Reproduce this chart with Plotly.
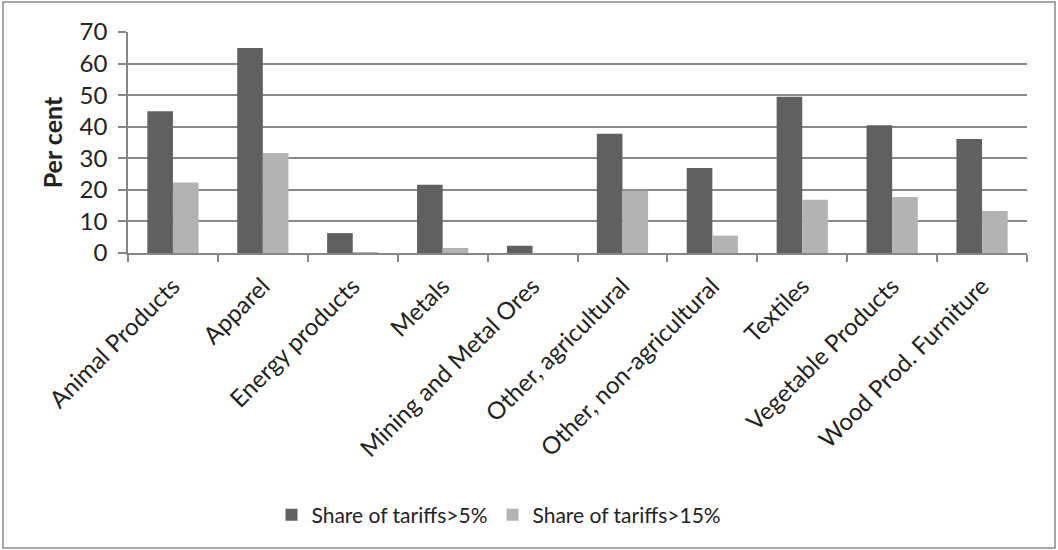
import plotly.graph_objects as go

categories = ["Animal Products", "Apparel", "Energy products", "Metals",
              "Mining and Metal Ores", "Other, agricultural", "Other, non-agricultural",
              "Textiles", "Vegetable Products", "Wood Prod. Furniture"]
share_gt5 = [44.9, 64.9, 6.3, 21.6, 2.3, 37.8, 26.9, 49.5, 40.5, 36.1]
share_gt15 = [22.3, 31.7, 0.3, 1.6, 0.0, 19.7, 5.5, 16.9, 17.7, 13.3]
y_ticks = [0, 10, 20, 30, 40, 50, 60, 70]

FONT = "Lato"
W, H = 1058, 550
ml, mr, mt, mb = 128, 31, 32, 297

fig = go.Figure()
fig.add_trace(go.Bar(x=categories, y=share_gt5, name="Share of tariffs>5%",
                     marker=dict(color="#606060", line=dict(width=0))))
fig.add_trace(go.Bar(x=categories, y=share_gt15, name="Share of tariffs>15%",
                     marker=dict(color="#b3b3b3", line=dict(width=0))))

pw = W - ml - mr
ph = H - mt - mb
def px_x(x):
    return (x - ml) / pw
def px_y(y):
    return (H - mb - y) / ph

fig.update_layout(
    width=W, height=H,
    margin=dict(l=ml, r=mr, t=mt, b=mb),
    paper_bgcolor="white", plot_bgcolor="white",
    barmode="group", bargap=0.43, bargroupgap=0,
    font=dict(family=FONT, size=22, color="#222222"),
    showlegend=True,
    legend=dict(orientation="h", x=px_x(499), xanchor="center",
                y=px_y(515), yanchor="middle",
                font=dict(family=FONT, size=21, color="#222222"),
                itemwidth=30, traceorder="normal"),
    xaxis=dict(type="category", tickangle=-45, tickson="boundaries",
               ticks="outside", ticklen=7, tickcolor="#868686", tickwidth=1.5,
               showline=True, linecolor="#868686", linewidth=1.5, automargin=False,
               ticklabelstandoff=8,
               showgrid=False, tickfont=dict(family=FONT, size=24, color="#222222")),
    yaxis=dict(range=[0, 70], tickvals=y_ticks, ticks="outside", ticklen=8,
               tickcolor="#868686", tickwidth=1.5, automargin=False,
               ticklabelstandoff=6,
               showline=True, linecolor="#868686", linewidth=1.5,
               showgrid=True, gridcolor="#898989", gridwidth=1.5,
               zeroline=False,
               tickfont=dict(family=FONT, size=24, color="#222222"),
               title=dict(text="<b>Per cent</b>", font=dict(family=FONT, size=25, color="#222222"),
                          standoff=10)),
    shapes=[dict(type="rect", xref="paper", yref="paper",
                 x0=px_x(3), x1=px_x(1055), y0=px_y(548), y1=px_y(2),
                 line=dict(color="#8a8a8a", width=1.5), fillcolor="rgba(0,0,0,0)",
                 layer="below")],
)

fig.write_html("out.html", config={"displayModeBar": False},
               post_script="document.body.style.margin='0';")
